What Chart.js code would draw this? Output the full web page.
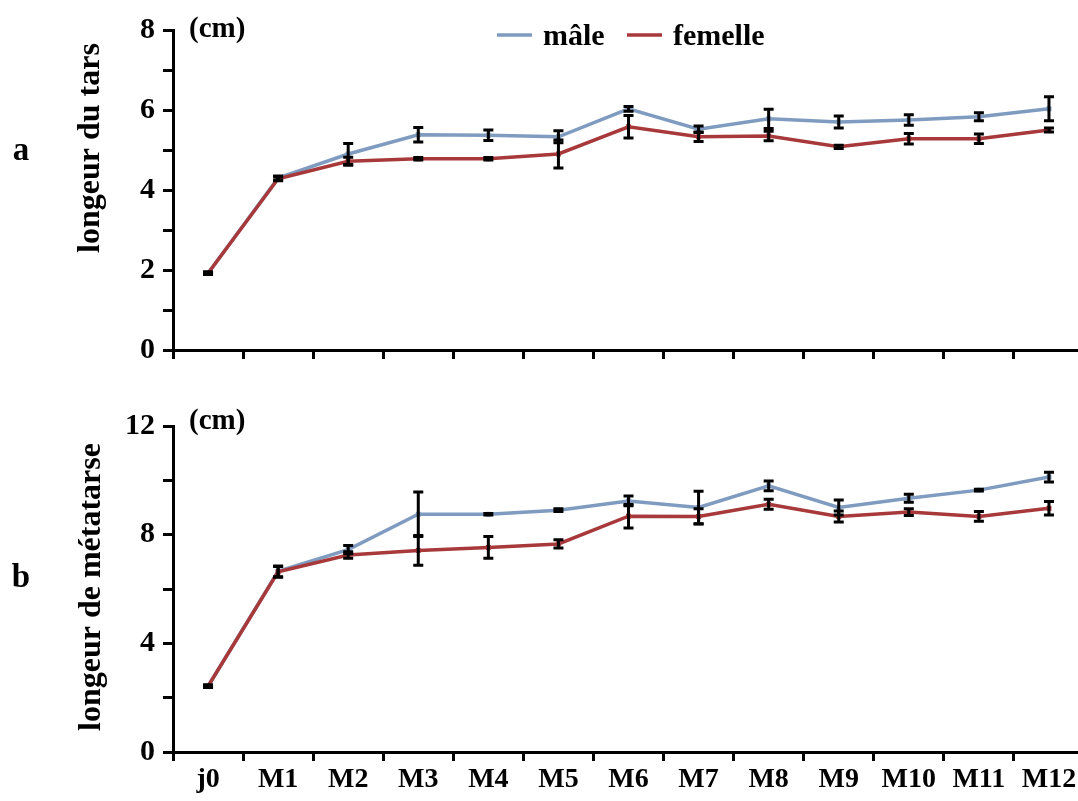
<!DOCTYPE html>
<html>
<head>
<meta charset="utf-8">
<script src="https://cdn.jsdelivr.net/npm/chart.js@4.4.1/dist/chart.umd.min.js"></script>
<style>
  html, body { margin: 0; padding: 0; background: #fff; overflow: hidden; }
  #wrapTop { position: absolute; left: 0; top: 0; width: 1090px; height: 400px; }
  #wrapBottom { position: absolute; left: 0; top: 400px; width: 1090px; height: 401px; }
</style>
</head>
<body>
<div id="wrapTop"><canvas id="chartTars"></canvas></div>
<div id="wrapBottom"><canvas id="chartMeta"></canvas></div>
<script>
const categories = ['j0', 'M1', 'M2', 'M3', 'M4', 'M5', 'M6', 'M7', 'M8', 'M9', 'M10', 'M11', 'M12'];

// a - longeur du tars (cm)
const tarsMale      = [1.92, 4.30, 4.90, 5.38, 5.37, 5.33, 6.03, 5.52, 5.78, 5.70, 5.75, 5.83, 6.03];
const tarsMaleErr   = [0.03, 0.05, 0.26, 0.18, 0.13, 0.15, 0.06, 0.08, 0.24, 0.15, 0.13, 0.10, 0.30];
const tarsFemale    = [1.92, 4.28, 4.72, 4.78, 4.78, 4.90, 5.58, 5.33, 5.35, 5.08, 5.28, 5.28, 5.50];
const tarsFemaleErr = [0.03, 0.05, 0.10, 0.03, 0.03, 0.35, 0.28, 0.12, 0.12, 0.04, 0.13, 0.12, 0.05];

// b - longeur de métatarse (cm)
const metaMale      = [2.42, 6.65, 7.45, 8.75, 8.75, 8.90, 9.24, 9.00, 9.80, 9.00, 9.34, 9.64, 10.12];
const metaMaleErr   = [0.05, 0.20, 0.15, 0.82, 0.03, 0.05, 0.18, 0.60, 0.18, 0.28, 0.15, 0.03, 0.18];
const metaFemale    = [2.42, 6.63, 7.25, 7.42, 7.53, 7.66, 8.68, 8.67, 9.12, 8.67, 8.83, 8.67, 8.97];
const metaFemaleErr = [0.05, 0.20, 0.12, 0.55, 0.40, 0.15, 0.43, 0.28, 0.18, 0.20, 0.12, 0.18, 0.25];

const serif = '"Liberation Serif", "Times New Roman", serif';
const maleColor = '#7f9bbf';
const femaleColor = '#a8393b';

// error bars drawn from dataset.errors through the y scale
const errorBars = {
  id: 'errorBars',
  afterDatasetsDraw(chart) {
    const ctx = chart.ctx;
    const y = chart.scales.y;
    ctx.save();
    ctx.strokeStyle = '#000';
    ctx.lineWidth = 3;
    chart.data.datasets.forEach((ds, i) => {
      const meta = chart.getDatasetMeta(i);
      meta.data.forEach((pt, j) => {
        const e = ds.errors[j];
        if (!e) return;
        const top = y.getPixelForValue(ds.data[j] + e);
        const bot = y.getPixelForValue(ds.data[j] - e);
        ctx.beginPath();
        ctx.moveTo(pt.x, top); ctx.lineTo(pt.x, bot);
        ctx.moveTo(pt.x - 5, top); ctx.lineTo(pt.x + 5, top);
        ctx.moveTo(pt.x - 5, bot); ctx.lineTo(pt.x + 5, bot);
        ctx.stroke();
      });
    });
    ctx.restore();
  }
};

// panel letter, axis title, unit and legend
const annotations = {
  id: 'annotations',
  afterDraw(chart, args, opts) {
    const ctx = chart.ctx;
    ctx.save();
    ctx.fillStyle = '#000';
    ctx.textBaseline = 'alphabetic';

    ctx.font = 'bold 33px ' + serif;
    ctx.textAlign = 'center';
    ctx.fillText(opts.letter, 21, opts.letterY);

    ctx.font = 'bold 29px ' + serif;
    ctx.textAlign = 'left';
    ctx.fillText('(cm)', 189, opts.unitY);

    ctx.save();
    ctx.translate(opts.titleX, opts.titleY);
    ctx.rotate(-Math.PI / 2);
    ctx.font = 'bold 32px ' + serif;
    ctx.textAlign = 'center';
    ctx.textBaseline = 'middle';
    ctx.fillText(opts.title, 0, 0);
    ctx.restore();

    if (opts.legend) {
      const items = [['mâle', maleColor, 497], ['femelle', femaleColor, 627]];
      ctx.font = 'bold 30px ' + serif;
      ctx.textAlign = 'left';
      items.forEach(([label, color, x]) => {
        ctx.strokeStyle = color;
        ctx.lineWidth = 3.5;
        ctx.beginPath();
        ctx.moveTo(x, 35); ctx.lineTo(x + 35, 35);
        ctx.stroke();
        ctx.fillText(label, x + 46, 45);
      });
    }
    ctx.restore();
  }
};

function makeChart(id, male, maleErr, female, femaleErr, cfg) {
  const line = (label, data, errors, color, order) => ({
    label, data, errors, order,
    borderColor: color,
    backgroundColor: color,
    borderWidth: 3.5,
    pointStyle: 'rect',
    pointRadius: 3.5,
    pointBorderWidth: 0,
    tension: 0
  });
  return new Chart(document.getElementById(id), {
    type: 'line',
    data: {
      labels: categories,
      datasets: [
        line('mâle', male, maleErr, maleColor, 1),
        line('femelle', female, femaleErr, femaleColor, 0)
      ]
    },
    plugins: [errorBars, annotations],
    options: {
      responsive: true,
      maintainAspectRatio: false,
      animation: false,
      layout: { padding: { left: 0, top: cfg.padTop, right: 6, bottom: 0 } },
      plugins: {
        legend: { display: false },
        tooltip: { enabled: false },
        annotations: cfg.notes
      },
      scales: {
        x: {
          offset: true,
          grid: { offset: true, drawOnChartArea: false, tickLength: 9, color: '#000', lineWidth: 3 },
          border: { color: '#000', width: 3 },
          ticks: {
            display: cfg.showX,
            color: '#000',
            padding: 2,
            maxRotation: 0,
            font: { family: serif, size: 28, weight: 'bold' }
          },
          afterFit: s => { s.height = cfg.xHeight; }
        },
        y: {
          min: 0,
          max: cfg.max,
          grid: { drawOnChartArea: false, tickLength: 10, color: '#000', lineWidth: 3 },
          border: { color: '#000', width: 3 },
          ticks: {
            stepSize: cfg.step,
            color: '#000',
            padding: 8,
            font: { family: serif, size: 30, weight: 'bold' },
            callback: v => (v % cfg.labelEvery === 0 ? v : '')
          },
          afterFit: s => { s.width = 173; }
        }
      }
    }
  });
}

makeChart('chartTars', tarsMale, tarsMaleErr, tarsFemale, tarsFemaleErr, {
  padTop: 30, xHeight: 50, showX: false, max: 8, step: 1, labelEvery: 2,
  notes: { letter: 'a', letterY: 160, unitY: 37, title: 'longeur du tars', titleX: 91, titleY: 148, legend: true }
});

makeChart('chartMeta', metaMale, metaMaleErr, metaFemale, metaFemaleErr, {
  padTop: 20, xHeight: 49, showX: true, max: 12, step: 2, labelEvery: 4,
  notes: { letter: 'b', letterY: 187, unitY: 29, title: 'longeur de métatarse', titleX: 92, titleY: 187, legend: false }
});
</script>
</body>
</html>
